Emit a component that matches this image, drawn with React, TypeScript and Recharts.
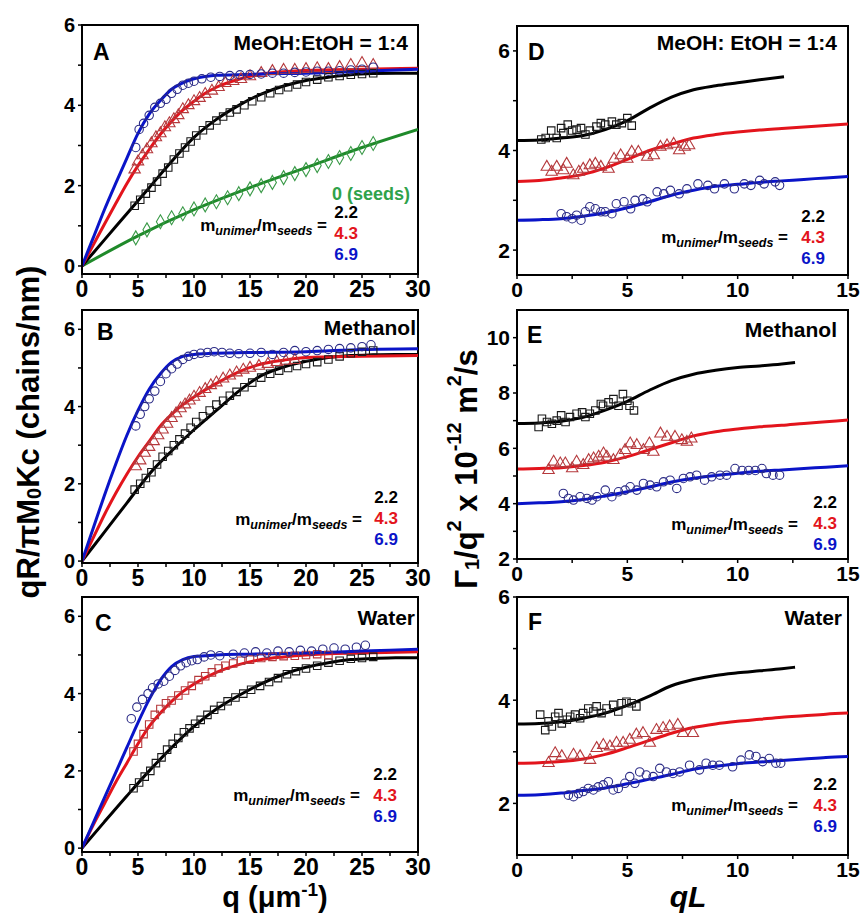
import React from "react";
import { ComposedChart, XAxis, YAxis, ZAxis, Line, Scatter, ReferenceArea } from "recharts";

type Pt = [number, number];

// ---- tick labels ----
const qTicks = [0, 5, 10, 15, 20, 25, 30];
const qMinor = [2.5, 7.5, 12.5, 17.5, 22.5, 27.5];
const qlTicks = [0, 5, 10, 15];
const qlMinor = [2.5, 7.5, 12.5];
const rgTicks = [0, 2, 4, 6];
const rgMinor = [1, 3, 5];
const dTicks = [2, 4, 6];
const dMinor = [3, 5];
const eTicks = [2, 4, 6, 8, 10];
const eMinor = [3, 5, 7, 9];
const fTicks = [2, 4, 6];
const fMinor = [3, 5];

const ratios = ["2.2", "4.3", "6.9"];
const seedsLabel = "0 (seeds)";

// ---- panel A: MeOH:EtOH = 1:4 ----
const aBluePts: Pt[] = [[4.8,2.95],[5.1,3.4],[5.5,3.55],[6.0,3.75],[6.5,3.95],[7.0,4.05],[7.5,4.15],[8.0,4.3],[8.5,4.4],[9.0,4.5],[9.5,4.55],[10.0,4.6],[10.7,4.66],[11.5,4.7],[12.3,4.72],[13.2,4.74],[14.1,4.76],[15.0,4.77],[16.0,4.78],[17.0,4.8],[18.0,4.8],[19.0,4.82],[20.0,4.83],[21.0,4.85],[22.0,4.85],[23.0,4.86],[24.0,4.88],[25.0,4.9],[26.0,4.95]];
const aRedPts: Pt[] = [[4.7,2.4],[5.0,2.6],[5.4,2.75],[5.8,2.9],[6.2,3.05],[6.6,3.2],[7.0,3.3],[7.4,3.45],[7.8,3.55],[8.2,3.65],[8.6,3.75],[9.0,3.9],[9.5,4.0],[10.0,4.1],[10.5,4.18],[11.0,4.28],[11.6,4.36],[12.2,4.45],[12.8,4.55],[13.5,4.6],[14.2,4.65],[15.0,4.72],[16.0,4.8],[17.0,4.85],[18.0,4.88],[19.0,4.88],[20.0,4.9],[21.0,4.92],[22.0,4.9],[23.0,4.95],[24.0,5.0],[25.0,5.05],[26.0,5.0]];
const aBlackPts: Pt[] = [[4.7,1.5],[5.2,1.65],[5.7,1.8],[6.2,1.95],[6.7,2.1],[7.2,2.3],[7.7,2.45],[8.2,2.65],[8.7,2.8],[9.2,2.95],[9.7,3.1],[10.2,3.25],[10.8,3.38],[11.4,3.5],[12.0,3.62],[12.6,3.72],[13.2,3.82],[13.8,3.9],[14.5,4.0],[15.2,4.1],[16.0,4.2],[16.8,4.3],[17.6,4.38],[18.4,4.45],[19.2,4.52],[20.0,4.58],[21.0,4.64],[22.0,4.7],[23.0,4.73],[24.0,4.76],[25.0,4.78],[26.0,4.8]];
const aGreenPts: Pt[] = [[4.8,0.7],[5.8,0.9],[7.0,1.1],[8.0,1.2],[9.0,1.3],[10.0,1.42],[11.0,1.52],[12.0,1.6],[13.0,1.7],[14.0,1.8],[15.0,1.92],[16.0,2.0],[17.0,2.08],[18.0,2.2],[19.0,2.3],[20.0,2.4],[21.0,2.5],[22.0,2.6],[23.0,2.7],[24.0,2.8],[25.0,2.95],[26.0,3.05]];
const aBlueFit: Pt[] = [[0,0],[1,0.7],[2,1.4],[3,2.05],[4,2.68],[5,3.3],[6,3.78],[7,4.12],[8,4.4],[9,4.56],[10,4.66],[11,4.72],[12,4.75],[14,4.76],[16,4.78],[20,4.8],[25,4.85],[30,4.9]];
const aRedFit: Pt[] = [[0,0],[1,0.52],[2,1.04],[3,1.55],[4,2.05],[5,2.5],[6,2.9],[7,3.28],[8,3.6],[9,3.88],[10,4.1],[11,4.3],[12,4.45],[14,4.65],[16,4.78],[20,4.87],[25,4.9],[30,4.92]];
const aBlackFit: Pt[] = [[0,0],[2,0.65],[4,1.3],[6,1.95],[8,2.6],[10,3.2],[12,3.65],[14,4.0],[16,4.28],[18,4.48],[20,4.62],[22,4.7],[24,4.76],[26,4.79],[28,4.8],[30,4.8]];
const aGreenFit: Pt[] = [[0,0],[5,0.75],[10,1.4],[15,1.95],[20,2.45],[25,2.95],[30,3.4]];

// ---- panel B: Methanol ----
const bBluePts: Pt[] = [[4.8,3.5],[5.2,3.8],[5.6,4.0],[6.0,4.2],[6.5,4.4],[7.0,4.65],[7.5,4.85],[8.0,4.98],[8.5,5.1],[9.0,5.22],[9.5,5.3],[10.0,5.35],[10.6,5.38],[11.2,5.4],[11.8,5.42],[12.5,5.4],[13.2,5.38],[14.0,5.37],[15.0,5.38],[16.0,5.4],[17.0,5.35],[18.0,5.4],[19.0,5.45],[20.0,5.42],[21.0,5.45],[22.0,5.48],[23.0,5.5],[24.0,5.52],[25.0,5.55],[25.8,5.6]];
const bRedPts: Pt[] = [[4.8,2.45],[5.2,2.6],[5.6,2.8],[6.0,2.95],[6.4,3.1],[6.8,3.25],[7.2,3.4],[7.6,3.55],[8.0,3.7],[8.4,3.82],[8.8,3.95],[9.2,4.05],[9.6,4.15],[10.0,4.25],[10.5,4.35],[11.0,4.45],[11.5,4.55],[12.0,4.62],[12.6,4.72],[13.2,4.8],[13.8,4.88],[14.4,4.95],[15.0,5.0],[15.8,5.05],[16.6,5.1],[17.4,5.15],[18.2,5.18],[19.0,5.2]];
const bBlackPts: Pt[] = [[4.7,1.85],[5.2,2.0],[5.7,2.15],[6.2,2.3],[6.7,2.5],[7.2,2.7],[7.7,2.85],[8.2,3.0],[8.7,3.15],[9.2,3.3],[9.7,3.45],[10.2,3.6],[10.8,3.75],[11.4,3.9],[12.0,4.05],[12.6,4.15],[13.2,4.28],[13.8,4.38],[14.5,4.5],[15.2,4.62],[16.0,4.75],[16.8,4.85],[17.6,4.93],[18.4,5.0],[19.2,5.05],[20.0,5.1],[21.0,5.15],[22.0,5.22],[23.0,5.3],[24.0,5.38],[25.0,5.42],[26.0,5.45]];
const bBlueFit: Pt[] = [[0,0],[1,0.85],[2,1.7],[3,2.5],[4,3.25],[5,3.9],[6,4.45],[7,4.85],[8,5.15],[9,5.3],[10,5.35],[11,5.37],[12,5.38],[15,5.4],[20,5.42],[25,5.48],[30,5.5]];
const bRedFit: Pt[] = [[0,0],[1,0.6],[2,1.2],[3,1.75],[4,2.25],[5,2.7],[6,3.1],[7,3.5],[8,3.8],[9,4.05],[10,4.25],[12,4.6],[14,4.9],[16,5.1],[18,5.2],[20,5.27],[25,5.3],[30,5.32]];
const bBlackFit: Pt[] = [[0,0],[2,0.75],[4,1.5],[6,2.25],[8,2.85],[10,3.4],[12,3.9],[14,4.4],[16,4.8],[18,5.02],[20,5.17],[22,5.27],[24,5.32],[26,5.34],[28,5.35],[30,5.35]];

// ---- panel C: Water ----
const cBluePts: Pt[] = [[4.4,3.35],[4.9,3.65],[5.4,3.85],[5.9,4.0],[6.3,4.15],[6.8,4.25],[7.3,4.32],[7.8,4.45],[8.3,4.6],[8.8,4.72],[9.3,4.8],[9.8,4.85],[10.3,4.88],[10.9,4.95],[11.5,5.0],[12.3,4.98],[13.5,5.02],[14.5,5.05],[15.5,5.08],[16.5,5.05],[17.5,5.1],[18.5,5.08],[19.5,5.12],[20.5,5.1],[21.5,5.15],[22.5,5.18],[23.5,5.15],[24.5,5.2],[25.3,5.25]];
const cRedPts: Pt[] = [[4.6,2.5],[5.0,2.7],[5.5,2.95],[6.0,3.2],[6.5,3.45],[7.0,3.6],[7.5,3.75],[8.0,3.82],[8.6,3.95],[9.2,4.08],[9.8,4.2],[10.4,4.35],[11.0,4.45],[11.6,4.55],[12.2,4.65],[12.8,4.72],[13.5,4.78],[14.2,4.85],[15.0,4.88],[16.0,4.92],[17.0,4.95],[18.0,4.97],[19.0,4.98],[20.0,5.0],[21.0,5.02],[22.0,5.0]];
const cBlackPts: Pt[] = [[4.6,1.55],[5.1,1.7],[5.6,1.85],[6.1,2.0],[6.6,2.2],[7.1,2.35],[7.6,2.55],[8.1,2.7],[8.6,2.85],[9.1,3.0],[9.6,3.1],[10.1,3.22],[10.6,3.32],[11.2,3.45],[11.8,3.58],[12.4,3.68],[13.0,3.8],[13.7,3.9],[14.4,4.0],[15.1,4.1],[15.9,4.2],[16.7,4.3],[17.5,4.4],[18.3,4.5],[19.1,4.58],[20.0,4.65],[21.0,4.72],[22.0,4.8],[23.0,4.85],[24.0,4.9],[25.0,4.92],[26.0,4.95]];
const cBlueFit: Pt[] = [[0,0],[1,0.65],[2,1.3],[3,1.95],[4,2.6],[5,3.25],[6,3.85],[7,4.35],[8,4.7],[9,4.88],[10,4.96],[11,4.98],[12,5.0],[15,5.02],[20,5.05],[25,5.1],[30,5.15]];
const cRedFit: Pt[] = [[0,0],[1,0.6],[2,1.15],[3,1.7],[4,2.2],[5,2.7],[6,3.15],[7,3.5],[8,3.8],[9,4.05],[10,4.25],[12,4.55],[14,4.75],[16,4.88],[18,4.95],[20,5.0],[25,5.05],[30,5.08]];
const cBlackFit: Pt[] = [[0,0],[2,0.68],[4,1.35],[6,2.0],[8,2.6],[10,3.15],[12,3.6],[14,3.95],[16,4.25],[18,4.5],[20,4.68],[22,4.8],[24,4.88],[26,4.91],[28,4.93],[30,4.93]];

// ---- panel D: MeOH: EtOH = 1:4 ----
const dBlackPts: Pt[] = [[1.1,4.22],[1.3,4.25],[1.55,4.4],[1.8,4.25],[2.0,4.45],[2.1,4.35],[2.3,4.52],[2.5,4.4],[2.7,4.42],[2.9,4.45],[3.1,4.32],[3.3,4.4],[3.6,4.48],[3.8,4.55],[4.0,4.52],[4.3,4.58],[4.5,4.52],[4.75,4.55],[5.0,4.65],[5.2,4.5]];
const dRedPts: Pt[] = [[1.35,3.67],[1.57,3.57],[1.8,3.67],[2.1,3.6],[2.25,3.73],[2.55,3.5],[2.8,3.57],[3.0,3.63],[3.3,3.7],[3.55,3.73],[3.8,3.67],[4.15,3.63],[4.4,3.83],[4.7,3.9],[5.0,3.83],[5.2,3.97],[5.5,3.97],[5.9,3.87],[6.2,3.9],[6.5,4.07],[6.8,4.1],[7.1,4.13],[7.35,4.0],[7.6,4.07],[7.8,4.1]];
const dBluePts: Pt[] = [[2.0,2.73],[2.25,2.67],[2.5,2.63],[2.7,2.7],[2.9,2.6],[3.1,2.77],[3.3,2.87],[3.55,2.83],[3.8,2.77],[4.0,2.77],[4.3,2.73],[4.5,2.93],[4.85,2.97],[5.15,2.83],[5.35,3.0],[5.7,3.03],[5.9,2.97],[6.35,3.17],[6.65,3.13],[6.95,3.2],[7.35,3.13],[7.7,3.23],[8.2,3.33],[8.65,3.3],[8.95,3.23],[9.4,3.33],[9.85,3.23],[10.3,3.33],[10.6,3.3],[11.0,3.4],[11.2,3.33],[11.7,3.37],[11.9,3.3]];
const dBlackFit: Pt[] = [[0,4.2],[1,4.21],[2,4.25],[3,4.3],[4,4.42],[5,4.6],[6,4.85],[7,5.07],[8,5.22],[9,5.3],[10,5.36],[11,5.42],[12.1,5.48]];
const dRedFit: Pt[] = [[0,3.38],[1,3.4],[2,3.45],[3,3.52],[4,3.65],[5,3.82],[6,4.0],[7,4.13],[8,4.25],[9,4.32],[10,4.37],[11,4.41],[12,4.44],[13,4.47],[14,4.5],[15,4.53]];
const dBlueFit: Pt[] = [[0,2.6],[1,2.61],[2,2.63],[3,2.68],[4,2.75],[5,2.85],[6,2.97],[7,3.1],[8,3.2],[9,3.28],[10,3.32],[11,3.36],[12,3.39],[13,3.42],[14,3.45],[15,3.48]];

// ---- panel E: Methanol ----
const eBlackPts: Pt[] = [[0.98,6.77],[1.13,7.07],[1.36,6.95],[1.58,6.89],[1.8,7.0],[2.0,7.19],[2.2,6.95],[2.4,7.13],[2.7,7.25],[2.95,7.3],[3.1,7.13],[3.3,7.25],[3.55,7.37],[3.8,7.6],[3.9,7.54],[4.15,7.66],[4.37,7.78],[4.6,7.54],[4.8,7.96],[5.0,7.72],[5.1,7.54],[5.3,7.37]];
const eRedPts: Pt[] = [[1.43,5.21],[1.66,5.51],[1.96,5.45],[2.19,5.45],[2.5,5.27],[2.7,5.51],[3.0,5.39],[3.25,5.57],[3.47,5.63],[3.7,5.69],[3.92,5.81],[4.07,5.69],[4.37,5.57],[4.67,5.75],[4.9,5.93],[5.13,6.17],[5.43,6.11],[5.73,5.93],[6.0,6.17],[6.18,5.87],[6.5,6.53],[6.8,6.41],[7.16,6.41],[7.47,6.29],[7.7,6.23],[7.9,6.35]];
const eBluePts: Pt[] = [[2.1,4.37],[2.33,4.19],[2.56,4.13],[2.86,4.25],[3.17,4.19],[3.4,4.13],[3.62,4.25],[4.0,4.49],[4.3,4.25],[4.6,4.43],[4.9,4.49],[5.13,4.61],[5.43,4.49],[5.73,4.73],[6.03,4.67],[6.33,4.61],[6.64,4.79],[6.94,4.85],[7.24,4.55],[7.54,4.91],[7.84,4.97],[8.14,5.03],[8.5,4.85],[8.82,4.97],[9.2,5.03],[9.5,5.03],[9.88,5.27],[10.2,5.2],[10.5,5.2],[10.8,5.2],[11.1,5.27],[11.3,5.09],[11.6,5.03],[11.9,5.03]];
const eBlackFit: Pt[] = [[0,6.9],[1,6.92],[2,6.98],[3,7.12],[4,7.38],[5,7.7],[6,8.1],[7,8.45],[8,8.68],[9,8.82],[10,8.92],[11,8.98],[12,9.05],[12.6,9.1]];
const eRedFit: Pt[] = [[0,5.25],[1,5.27],[2,5.3],[3,5.38],[4,5.5],[5,5.7],[6,5.95],[7,6.2],[8,6.45],[9,6.6],[10,6.7],[11,6.78],[12,6.83],[13,6.9],[14,6.96],[15,7.02]];
const eBlueFit: Pt[] = [[0,4.0],[1,4.03],[2,4.07],[3,4.15],[4,4.28],[5,4.43],[6,4.6],[7,4.78],[8,4.92],[9,5.02],[10,5.1],[11,5.17],[12,5.22],[13,5.27],[14,5.32],[15,5.37]];

// ---- panel F: Water ----
const fBlackPts: Pt[] = [[1.05,3.72],[1.28,3.42],[1.43,3.59],[1.58,3.49],[1.73,3.68],[1.88,3.75],[2.03,3.55],[2.26,3.62],[2.41,3.68],[2.63,3.72],[2.86,3.65],[3.0,3.75],[3.23,3.84],[3.46,3.78],[3.61,3.88],[3.83,3.75],[4.06,3.84],[4.36,3.91],[4.59,3.78],[4.74,3.94],[4.96,3.97],[5.19,3.94],[5.41,3.88]];
const fRedPts: Pt[] = [[1.43,2.78],[1.73,2.97],[2.03,2.91],[2.56,2.94],[2.86,2.91],[3.31,2.84],[3.61,3.07],[3.91,3.13],[4.21,3.1],[4.51,3.17],[4.81,3.17],[5.11,3.23],[5.41,3.33],[5.71,3.36],[6.02,3.17],[6.32,3.42],[6.62,3.46],[6.92,3.49],[7.29,3.52],[7.52,3.36],[7.97,3.36]];
const fBluePts: Pt[] = [[2.33,2.16],[2.56,2.13],[2.78,2.19],[3.0,2.23],[3.23,2.29],[3.46,2.26],[3.68,2.32],[3.91,2.36],[4.14,2.42],[4.36,2.26],[4.59,2.29],[4.89,2.39],[5.11,2.52],[5.34,2.39],[5.56,2.61],[5.86,2.55],[6.17,2.52],[6.47,2.68],[6.77,2.61],[7.07,2.58],[7.37,2.61],[7.82,2.74],[8.27,2.65],[8.57,2.78],[8.87,2.74],[9.17,2.74],[9.77,2.71],[10.15,2.84],[10.53,2.94],[10.83,2.91],[11.13,2.81],[11.43,2.87],[11.73,2.78],[11.95,2.78]];
const fBlackFit: Pt[] = [[0,3.54],[1,3.55],[2,3.58],[3,3.65],[4,3.75],[5,3.9],[6,4.08],[7,4.28],[8,4.4],[9,4.48],[10,4.53],[11,4.57],[12,4.61],[12.6,4.64]];
const fRedFit: Pt[] = [[0,2.78],[1,2.79],[2,2.81],[3,2.86],[4,2.95],[5,3.08],[6,3.22],[7,3.36],[8,3.47],[9,3.54],[10,3.59],[11,3.63],[12,3.67],[13,3.7],[14,3.73],[15,3.75]];
const fBlueFit: Pt[] = [[0,2.16],[1,2.17],[2,2.2],[3,2.25],[4,2.3],[5,2.38],[6,2.47],[7,2.56],[8,2.66],[9,2.72],[10,2.77],[11,2.8],[12,2.83],[13,2.86],[14,2.89],[15,2.91]];

const FONT = "'Liberation Sans', Arial, sans-serif";
const BLUE = "#0a14c8";
const RED = "#e3141c";
const GREEN = "#1f8a2a";
const SEED_GREEN = "#2fa24a";
const BLUE_MK = "#2b2b86";
const RED_MK = "#b5393c";
const BLACK_MK = "#1a1a1a";
const GREEN_MK = "#3a9a48";

type Shape = "circle" | "square" | "triangle" | "diamond";
type Series = { pts: Pt[]; fit: Pt[]; shape: Shape; mark: string; line: string };

type PanelProps = {
  rect: [number, number, number, number];
  xDomain: [number, number];
  yDomain: [number, number];
  xMajor: number[];
  xMinor: number[];
  yMajor: number[];
  yMinor: number[];
  xFont: number;
  yFont: number;
  series: Series[];
};

const rows = (p: Pt[]) => p.map(([x, y]) => ({ x, y }));
const YW = 50;
const XH = 40;
const MT = 14;
const MR = 22;

const Panel = ({ rect, xDomain, yDomain, xMajor, xMinor, yMajor, yMinor, xFont, yFont, series }: PanelProps) => {
  const [x0, y0, x1, y1] = rect;
  const xt = [...xMajor, ...xMinor].sort((a, b) => a - b);
  const yt = [...yMajor, ...yMinor].sort((a, b) => a - b);
  return (
    <div style={{ position: "absolute", left: x0 - YW, top: y0 - MT }}>
      <ComposedChart
        width={x1 - x0 + YW + MR}
        height={y1 - y0 + MT + XH}
        margin={{ top: MT, right: MR, bottom: 0, left: 0 }}
      >
        <XAxis
          type="number"
          dataKey="x"
          domain={xDomain}
          allowDataOverflow
          ticks={xt}
          interval={0}
          height={XH}
          tickFormatter={(v: number) => (xMajor.includes(v) ? String(v) : "")}
          axisLine={{ stroke: "#000", strokeWidth: 2 }}
          tickLine={{ stroke: "#000", strokeWidth: 1.5 }}
          tickSize={4}
          tickMargin={3}
          tick={{ fill: "#000", fontSize: xFont, fontWeight: 700, fontFamily: FONT }}
        />
        <YAxis
          type="number"
          dataKey="y"
          domain={yDomain}
          allowDataOverflow
          ticks={yt}
          interval={0}
          width={YW}
          tickFormatter={(v: number) => (yMajor.includes(v) ? String(v) : "")}
          axisLine={{ stroke: "#000", strokeWidth: 2 }}
          tickLine={{ stroke: "#000", strokeWidth: 1.5 }}
          tickSize={4}
          tickMargin={3}
          tick={{ fill: "#000", fontSize: yFont, fontWeight: 700, fontFamily: FONT }}
        />
        <ZAxis range={[56, 56]} />
        <ReferenceArea
          x1={xDomain[0]}
          x2={xDomain[1]}
          y1={yDomain[0]}
          y2={yDomain[1]}
          fill="none"
          stroke="#000"
          strokeWidth={2}
        />
        {series.map((s, i) => (
          <Scatter
            key={"s" + i}
            data={rows(s.pts)}
            dataKey="y"
            shape={s.shape}
            fill="none"
            stroke={s.mark}
            strokeWidth={1.1}
            isAnimationActive={false}
          />
        ))}
        {series.map((s, i) => (
          <Line
            key={"l" + i}
            data={rows(s.fit)}
            dataKey="y"
            type="monotone"
            dot={false}
            activeDot={false}
            stroke={s.line}
            strokeWidth={3}
            isAnimationActive={false}
          />
        ))}
      </ComposedChart>
    </div>
  );
};

const Ratio = ({ x, y, mx, my }: { x: number; y: number; mx: number; my: number }) => (
  <g fontFamily={FONT} fontWeight={700}>
    <text x={mx} y={my} textAnchor="end" fontSize={17} fill="#000">
      m<tspan fontSize={12.5} fontStyle="italic" dy={4}>unimer</tspan>
      <tspan dy={-4}>/m</tspan>
      <tspan fontSize={12.5} fontStyle="italic" dy={4}>seeds</tspan>
      <tspan dy={-4}>{" ="}</tspan>
    </text>
    <text x={x} y={y} textAnchor="end" fontSize={17} fill="#000">{ratios[0]}</text>
    <text x={x} y={y + 21} textAnchor="end" fontSize={17} fill={RED}>{ratios[1]}</text>
    <text x={x} y={y + 42} textAnchor="end" fontSize={17} fill={BLUE}>{ratios[2]}</text>
  </g>
);

const Label = ({ x, y, t, end = false, size = 21 }: { x: number; y: number; t: string; end?: boolean; size?: number }) => (
  <text x={x} y={y} textAnchor={end ? "end" : "start"} fontSize={size} fontWeight={700} fontFamily={FONT} fill="#000">
    {t}
  </text>
);

export default function App() {
  return (
    <div style={{ position: "absolute", left: 0, top: 0, width: 863, height: 916, background: "#fff", fontFamily: FONT }}>
      <Panel
        rect={[82, 25, 418, 274]}
        xDomain={[0, 30]}
        yDomain={[-0.2, 6]}
        xMajor={qTicks}
        xMinor={qMinor}
        yMajor={rgTicks}
        yMinor={rgMinor}
        xFont={23}
        yFont={20}
        series={[
          { pts: aGreenPts, fit: aGreenFit, shape: "diamond", mark: GREEN_MK, line: GREEN },
          { pts: aBlackPts, fit: aBlackFit, shape: "square", mark: BLACK_MK, line: "#000" },
          { pts: aRedPts, fit: aRedFit, shape: "triangle", mark: RED_MK, line: RED },
          { pts: aBluePts, fit: aBlueFit, shape: "circle", mark: BLUE_MK, line: BLUE },
        ]}
      />
      <Panel
        rect={[82, 310, 418, 563]}
        xDomain={[0, 30]}
        yDomain={[-0.05, 6.5]}
        xMajor={qTicks}
        xMinor={qMinor}
        yMajor={rgTicks}
        yMinor={rgMinor}
        xFont={23}
        yFont={20}
        series={[
          { pts: bBlackPts, fit: bBlackFit, shape: "square", mark: BLACK_MK, line: "#000" },
          { pts: bRedPts, fit: bRedFit, shape: "triangle", mark: RED_MK, line: RED },
          { pts: bBluePts, fit: bBlueFit, shape: "circle", mark: BLUE_MK, line: BLUE },
        ]}
      />
      <Panel
        rect={[82, 597, 418, 852]}
        xDomain={[0, 30]}
        yDomain={[-0.1, 6.5]}
        xMajor={qTicks}
        xMinor={qMinor}
        yMajor={rgTicks}
        yMinor={rgMinor}
        xFont={23}
        yFont={20}
        series={[
          { pts: cBlackPts, fit: cBlackFit, shape: "square", mark: BLACK_MK, line: "#000" },
          { pts: cRedPts, fit: cRedFit, shape: "square", mark: RED_MK, line: RED },
          { pts: cBluePts, fit: cBlueFit, shape: "circle", mark: BLUE_MK, line: BLUE },
        ]}
      />
      <Panel
        rect={[517, 26, 848, 275]}
        xDomain={[0, 15]}
        yDomain={[1.5, 6.5]}
        xMajor={qlTicks}
        xMinor={qlMinor}
        yMajor={dTicks}
        yMinor={dMinor}
        xFont={21}
        yFont={21}
        series={[
          { pts: dBlackPts, fit: dBlackFit, shape: "square", mark: BLACK_MK, line: "#000" },
          { pts: dRedPts, fit: dRedFit, shape: "triangle", mark: RED_MK, line: RED },
          { pts: dBluePts, fit: dBlueFit, shape: "circle", mark: BLUE_MK, line: BLUE },
        ]}
      />
      <Panel
        rect={[517, 310, 848, 559]}
        xDomain={[0, 15]}
        yDomain={[2, 11]}
        xMajor={qlTicks}
        xMinor={qlMinor}
        yMajor={eTicks}
        yMinor={eMinor}
        xFont={21}
        yFont={21}
        series={[
          { pts: eBlackPts, fit: eBlackFit, shape: "square", mark: BLACK_MK, line: "#000" },
          { pts: eRedPts, fit: eRedFit, shape: "triangle", mark: RED_MK, line: RED },
          { pts: eBluePts, fit: eBlueFit, shape: "circle", mark: BLUE_MK, line: BLUE },
        ]}
      />
      <Panel
        rect={[517, 597, 848, 855]}
        xDomain={[0, 15]}
        yDomain={[1, 6]}
        xMajor={qlTicks}
        xMinor={qlMinor}
        yMajor={fTicks}
        yMinor={fMinor}
        xFont={21}
        yFont={21}
        series={[
          { pts: fBlackPts, fit: fBlackFit, shape: "square", mark: BLACK_MK, line: "#000" },
          { pts: fRedPts, fit: fRedFit, shape: "triangle", mark: RED_MK, line: RED },
          { pts: fBluePts, fit: fBlueFit, shape: "circle", mark: BLUE_MK, line: BLUE },
        ]}
      />

      <svg width={863} height={916} style={{ position: "absolute", left: 0, top: 0, pointerEvents: "none" }}>
        {/* panel letters and titles */}
        <Label x={93} y={60} t="A" size={23} />
        <Label x={408} y={50} t="MeOH:EtOH = 1:4" end />
        <Label x={97} y={340} t="B" size={23} />
        <Label x={416} y={335} t="Methanol" end />
        <Label x={95} y={631} t="C" size={23} />
        <Label x={415} y={625} t="Water" end />
        <Label x={528} y={60} t="D" size={23} />
        <Label x={837} y={50} t="MeOH: EtOH = 1:4" end />
        <Label x={527} y={343} t="E" size={23} />
        <Label x={837} y={337} t="Methanol" end />
        <Label x={528} y={630} t="F" size={23} />
        <Label x={842} y={625} t="Water" end />

        <text x={410} y={200} textAnchor="end" fontSize={18} fontWeight={700} fontFamily={FONT} fill={SEED_GREEN}>
          {seedsLabel}
        </text>
        <Ratio x={358} y={218} mx={327} my={231} />
        <Ratio x={398} y={503} mx={362} my={525} />
        <Ratio x={397} y={780} mx={360} my={801} />
        <Ratio x={825} y={222} mx={788} my={243} />
        <Ratio x={837} y={508} mx={798} my={530} />
        <Ratio x={837} y={790} mx={798} my={811} />

        {/* axis titles */}
        <text
          transform="translate(28,432) rotate(-90)"
          textAnchor="middle"
          dominantBaseline="central"
          fontSize={31}
          fontWeight={700}
          fontFamily={FONT}
          fill="#000"
        >
          qR/πM<tspan fontSize={20} dy={6}>0</tspan>
          <tspan dy={-6}>Kc (chains/nm)</tspan>
        </text>
        <text
          transform="translate(466,469) rotate(-90)"
          textAnchor="middle"
          dominantBaseline="central"
          fontSize={31}
          fontWeight={700}
          fontFamily={FONT}
          fill="#000"
        >
          Γ<tspan fontSize={20} dy={6}>1</tspan>
          <tspan dy={-6}>/q</tspan>
          <tspan fontSize={20} dy={-12}>2</tspan>
          <tspan dy={12}> x 10</tspan>
          <tspan fontSize={20} dy={-12}>-12</tspan>
          <tspan dy={12}> m</tspan>
          <tspan fontSize={20} dy={-12}>2</tspan>
          <tspan dy={12}>/s</tspan>
        </text>
        <text x={275} y={907} textAnchor="middle" fontSize={29} fontWeight={700} fontFamily={FONT} fill="#000">
          q (μm<tspan fontSize={19} dy={-11}>-1</tspan>
          <tspan dy={11}>)</tspan>
        </text>
        <text x={688} y={907} textAnchor="middle" fontSize={30} fontWeight={700} fontStyle="italic" fontFamily={FONT} fill="#000">
          qL
        </text>
      </svg>
    </div>
  );
}
